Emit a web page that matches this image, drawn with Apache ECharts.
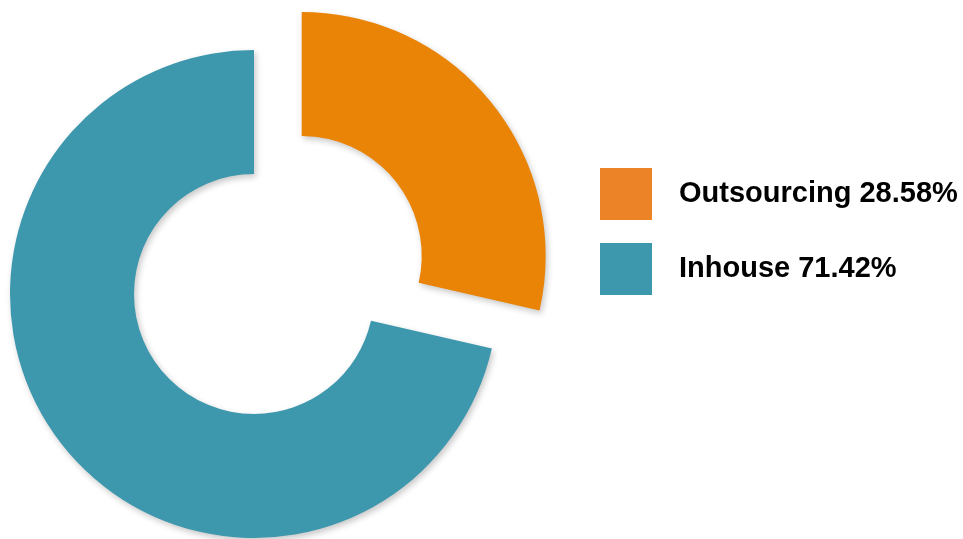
<!DOCTYPE html>
<html>
<head>
<meta charset="utf-8">
<style>
  html, body { margin: 0; padding: 0; background: #ffffff; }
  #chart { width: 963px; height: 539px; }
</style>
<script src="https://cdn.jsdelivr.net/npm/echarts@6/dist/echarts.min.js"></script>
</head>
<body>
<div id="chart"></div>
<script>
// Share of work done in-house versus outsourced
const categories = ['Outsourcing', 'Inhouse'];
const shares = [28.58, 71.42];
const sliceColors = ['#EA8406', '#3D97AD'];
const legendColors = ['#EC8427', '#3D97AD'];

const chart = echarts.init(document.getElementById('chart'), null, { renderer: 'canvas' });

const pieData = categories.map((name, i) => ({
  name: name,
  value: shares[i],
  selected: i === 0,
  itemStyle: { color: sliceColors[i] }
}));

chart.setOption({
  animation: false,
  legend: {
    orient: 'vertical',
    left: 600,
    top: 168,
    padding: 0,
    icon: 'rect',
    itemWidth: 52,
    itemHeight: 52,
    itemGap: 23,
    selectedMode: false,
    data: categories.map((name, i) => ({ name: name, itemStyle: { color: legendColors[i] } })),
    formatter: function (name) {
      const i = categories.indexOf(name);
      return name + ' ' + shares[i].toFixed(2) + '%';
    },
    textStyle: {
      fontFamily: 'Liberation Sans, Arial, sans-serif',
      fontWeight: 'bold',
      fontSize: 29,
      color: '#000000',
      padding: [0, 0, 0, 22]
    }
  },
  series: [{
    type: 'pie',
    center: [254, 294],
    radius: [120, 244],
    startAngle: 90,
    clockwise: true,
    selectedMode: 'single',
    selectedOffset: 61,
    silent: true,
    label: { show: false },
    labelLine: { show: false },
    itemStyle: {
      shadowBlur: 6,
      shadowOffsetX: 2,
      shadowOffsetY: 3,
      shadowColor: 'rgba(0,0,0,0.22)'
    },
    emphasis: { disabled: true },
    data: pieData
  }]
});
</script>
</body>
</html>
